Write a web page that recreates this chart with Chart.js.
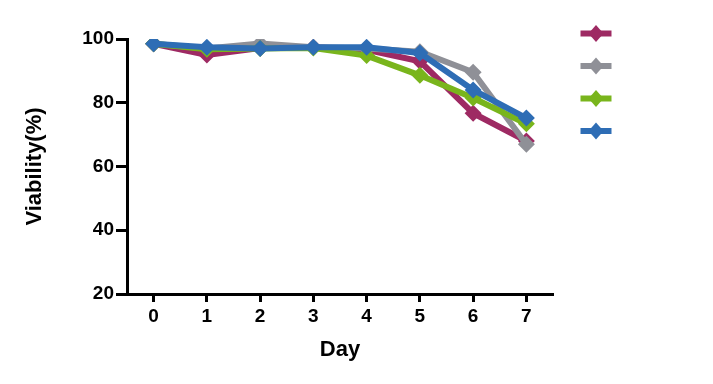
<!DOCTYPE html>
<html>
<head>
<meta charset="utf-8">
<script src="https://cdn.jsdelivr.net/npm/chart.js@4.4.1/dist/chart.umd.min.js"></script>
<style>
html,body{margin:0;padding:0;background:#fff;}
#wrap{width:713px;height:384px;position:relative;}
</style>
</head>
<body>
<div id="wrap"><canvas id="c" width="713" height="384"></canvas></div>
<script>
const days = ['0','1','2','3','4','5','6','7'];
const seriesMaroon = [98.5, 95.0, 97.2, 97.4, 96.6, 93.0, 76.7, 68.0];
const seriesGray   = [98.5, 97.0, 98.6, 97.4, 97.0, 96.0, 89.6, 67.0];
const seriesGreen  = [98.5, 96.8, 97.0, 97.2, 94.8, 88.6, 81.5, 73.4];
const seriesBlue   = [98.5, 97.4, 97.0, 97.4, 97.4, 95.6, 84.0, 75.2];
const yTicks = [20, 40, 60, 80, 100];
const colors = ['#9e2a63', '#8f9097', '#79b51c', '#2e6db5'];

function ds(data, color, order) {
  return {
    label: '',
    data: data,
    borderColor: color,
    backgroundColor: color,
    borderWidth: 6,
    pointStyle: 'rectRot',
    pointRadius: 8.5,
    pointHoverRadius: 8.5,
    pointBorderWidth: 0,
    pointBackgroundColor: color,
    tension: 0,
    order: order
  };
}

const legendPlugin = {
  id: 'lineLegend',
  afterDraw(chart) {
    const ctx = chart.ctx;
    const area = chart.chartArea;
    const cx = area.right + 43;
    chart.data.datasets.forEach((d, i) => {
      const cy = area.top - 5.5 + i * 32.5;
      ctx.save();
      ctx.strokeStyle = d.borderColor;
      ctx.lineWidth = 6;
      ctx.beginPath();
      ctx.moveTo(cx - 15.5, cy);
      ctx.lineTo(cx + 15.5, cy);
      ctx.stroke();
      ctx.fillStyle = d.borderColor;
      ctx.beginPath();
      ctx.moveTo(cx - 7.5, cy);
      ctx.lineTo(cx, cy - 8.5);
      ctx.lineTo(cx + 7.5, cy);
      ctx.lineTo(cx, cy + 8.5);
      ctx.closePath();
      ctx.fill();
      ctx.restore();
    });
  }
};

const tickFont = { family: 'Liberation Sans, Arial', size: 19, weight: 'bold' };
const titleFont = { family: 'Liberation Sans, Arial', size: 22, weight: 'bold' };

new Chart(document.getElementById('c'), {
  type: 'line',
  data: {
    labels: days,
    datasets: [
      ds(seriesMaroon, colors[0], 4),
      ds(seriesGray, colors[1], 3),
      ds(seriesGreen, colors[2], 2),
      ds(seriesBlue, colors[3], 1)
    ]
  },
  options: {
    responsive: false,
    animation: false,
    devicePixelRatio: 1,
    layout: { padding: { top: 39, right: 160, bottom: 16.8, left: 18 } },
    plugins: { legend: { display: false }, tooltip: { enabled: false } },
    scales: {
      x: {
        type: 'category',
        offset: true,
        grid: { display: true, offset: false, drawOnChartArea: false, drawTicks: true, tickLength: 8, tickWidth: 3, tickColor: '#000' },
        border: { display: true, color: '#000', width: 3 },
        ticks: { color: '#000', padding: 3, font: tickFont, maxRotation: 0 },
        title: { display: true, text: 'Day', color: '#000', padding: { top: 6, bottom: 4 }, font: titleFont }
      },
      y: {
        min: 20,
        max: 100,
        afterBuildTicks: axis => { axis.ticks = yTicks.map(v => ({ value: v })); },
        grid: { display: true, drawOnChartArea: false, drawTicks: true, tickLength: 11, tickWidth: 3, tickColor: '#000' },
        border: { display: true, color: '#000', width: 3 },
        ticks: { color: '#000', padding: 2, font: tickFont },
        title: { display: true, text: 'Viability(%)', color: '#000', padding: { top: 4, bottom: 31.9 }, font: titleFont }
      }
    }
  },
  plugins: [legendPlugin]
});
</script>
</body>
</html>
